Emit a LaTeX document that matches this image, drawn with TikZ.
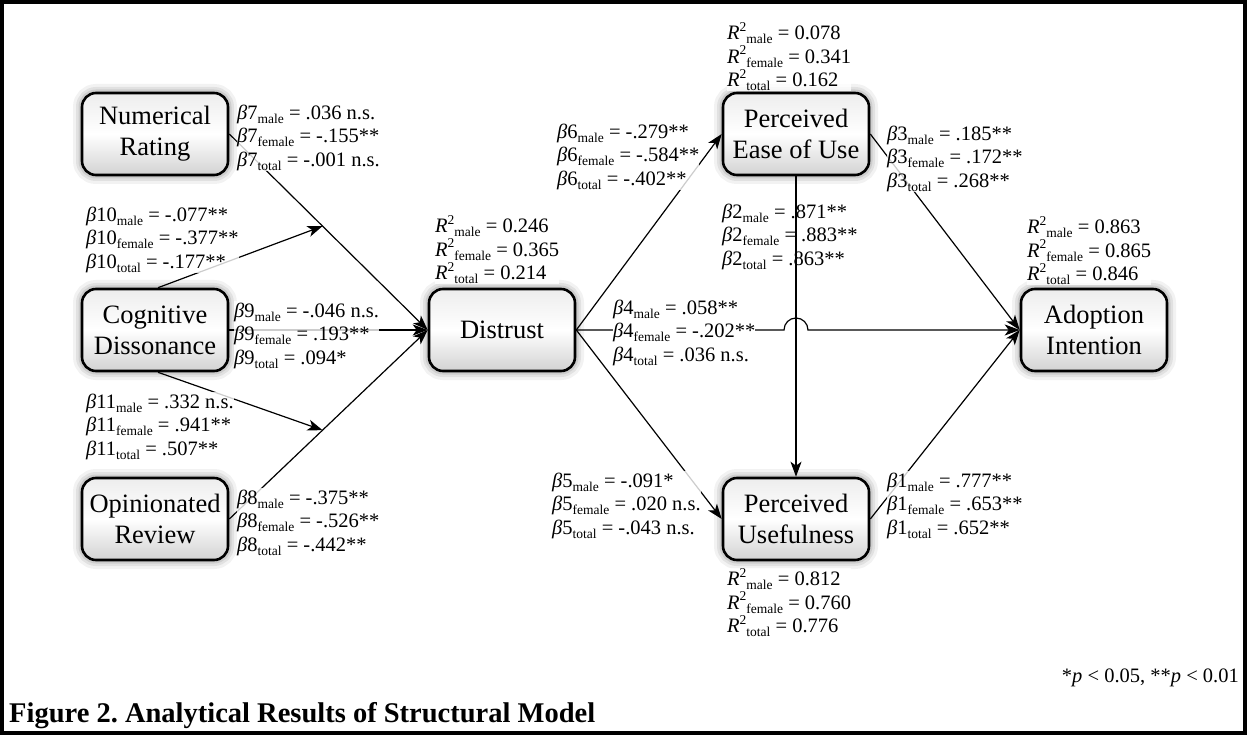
\documentclass[tikz,border=0pt]{standalone}
\usepackage{fontspec}
\setmainfont{Liberation Serif}
\usetikzlibrary{arrows.meta,calc}
\frenchspacing
\newcommand\boxfont{\fontsize{26.5}{31}\selectfont}
\newcommand\lblfont{\fontsize{20.5}{23.5}\selectfont}
\newcommand\capfont{\bfseries\fontsize{28.5}{32}\selectfont}
\newcommand\bt{\textit{β}}
\newcommand\sbs[1]{\raisebox{-0.2em}{\fontsize{13.5}{13.5}\selectfont #1}}
\newcommand\sps[1]{\raisebox{0.42em}{\fontsize{13.5}{13.5}\selectfont #1}}
\newcommand\fst{\rule{0pt}{16pt}}
\newcommand\Rsq{\textit{R}\sps{2}}
\tikzset{
  blk/.style={draw=black, line width=2.6pt, rounded corners=14pt,
    minimum width=146pt, minimum height=82pt, inner sep=0pt, align=center,
    font=\boxfont, top color=gray!14, bottom color=gray!35, middle color=white,
    preaction={draw=black, draw opacity=0.05, line width=18pt},
    preaction={draw=black, draw opacity=0.07, line width=12pt},
    preaction={draw=black, draw opacity=0.09, line width=7pt}},
  lab/.style={font=\lblfont, align=left, inner sep=0pt, anchor=north west,
    fill=white, fill opacity=0.8, text opacity=1},
  con/.style={line width=1.2pt, -{Stealth[length=15pt,width=11pt,inset=4pt]}},
}
\begin{document}
\begin{tikzpicture}[x=1pt,y=-1pt]
\useasboundingbox (0,0) rectangle (1247,735);
\draw[line width=4pt] (2,2) rectangle (1245,733);

% boxes
\node[blk] (nr) at (155,134) {Numerical\\Rating};
\node[blk] (cd) at (155,330) {Cognitive\\Dissonance};
\node[blk] (or) at (155,519) {Opinionated\\Review};
\node[blk] (dis) at (502,330) {Distrust};
\node[blk] (peou) at (796,134) {Perceived\\Ease of Use};
\node[blk] (pu) at (796,519) {Perceived\\Usefulness};
\node[blk] (adopt) at (1094,330) {Adoption\\Intention};

% moderation points
\coordinate (m10) at ($(nr.east)!0.47!(dis.west)$);
\coordinate (m11) at ($(or.east)!0.47!(dis.west)$);
\coordinate (hop) at (peou.south |- dis.east);

% connectors
\draw[con] (nr.east) -- (dis.west);
\draw[con] (cd.east) -- (dis.west);
\draw[con] (or.east) -- (dis.west);
\draw[con] ([xshift=3pt]cd.north) -- (m10);
\draw[con] ([xshift=3pt]cd.south) -- (m11);
\draw[con] (dis.east) -- (peou.west);
\draw[con] (dis.east) -- (pu.west);
\draw[con] (peou.south) -- (pu.north);
\draw[con] (dis.east) -- ([xshift=-12pt]hop)
  .. controls ([xshift=-12pt,yshift=6.63pt]hop) and ([xshift=-6.63pt,yshift=12pt]hop) .. ([yshift=12pt]hop)
  .. controls ([xshift=6.63pt,yshift=12pt]hop) and ([xshift=12pt,yshift=6.63pt]hop) .. ([xshift=12pt]hop)
  -- (adopt.west);
\draw[con] (peou.east) -- (adopt.west);
\draw[con] (pu.east) -- (adopt.west);

% labels
\node[lab] (l7) at (237,103) {\fst\bt7\sbs{male} = .036 n.s.\\ \bt7\sbs{female} = -.155**\\ \bt7\sbs{total} = -.001 n.s.};
\node[lab] (l10) at (86,205) {\fst\bt10\sbs{male} = -.077**\\ \bt10\sbs{female} = -.377**\\ \bt10\sbs{total} = -.177**};
\node[lab] (l9) at (234,301) {\fst\bt9\sbs{male} = -.046 n.s.\\ \bt9\sbs{female} = .193**\\ \bt9\sbs{total} = .094*};
\node[lab] (l11) at (86,392) {\fst\bt11\sbs{male} = .332 n.s.\\ \bt11\sbs{female} = .941**\\ \bt11\sbs{total} = .507**};
\node[lab] (l8) at (237,488) {\fst\bt8\sbs{male} = -.375**\\ \bt8\sbs{female} = -.526**\\ \bt8\sbs{total} = -.442**};
\node[lab] (rdis) at (435,215) {\fst\Rsq\sbs{male} = 0.246\\ \Rsq\sbs{female} = 0.365\\ \Rsq\sbs{total} = 0.214};
\node[lab] (l6) at (557,122) {\fst\bt6\sbs{male} = -.279**\\ \bt6\sbs{female} = -.584**\\ \bt6\sbs{total} = -.402**};
\node[lab] (rpeou) at (727,22) {\fst\Rsq\sbs{male} = 0.078\\ \Rsq\sbs{female} = 0.341\\ \Rsq\sbs{total} = 0.162};
\node[lab, fill opacity=0] (l2) at (722,202) {\fst\bt2\sbs{male} = .871**\\ \bt2\sbs{female} = .883**\\ \bt2\sbs{total} = .863**};
\node[lab] (l3) at (887,124) {\fst\bt3\sbs{male} = .185**\\ \bt3\sbs{female} = .172**\\ \bt3\sbs{total} = .268**};
\node[lab] (radopt) at (1027,216) {\fst\Rsq\sbs{male} = 0.863\\ \Rsq\sbs{female} = 0.865\\ \Rsq\sbs{total} = 0.846};
\node[lab, fill opacity=1] (l4) at (613,298) {\fst\bt4\sbs{male} = .058**\\ \bt4\sbs{female} = -.202**\\ \bt4\sbs{total} = .036 n.s.};
\node[lab] (l5) at (552,471) {\fst\bt5\sbs{male} = -.091*\\ \bt5\sbs{female} = .020 n.s.\\ \bt5\sbs{total} = -.043 n.s.};
\node[lab] (rpu) at (727,568) {\fst\Rsq\sbs{male} = 0.812\\ \Rsq\sbs{female} = 0.760\\ \Rsq\sbs{total} = 0.776};
\node[lab] (l1) at (887,471) {\fst\bt1\sbs{male} = .777**\\ \bt1\sbs{female} = .653**\\ \bt1\sbs{total} = .652**};

\node[font=\lblfont, inner sep=0pt, anchor=base east] (pnote) at (1239,682) {*\textit{p} < 0.05, **\textit{p} < 0.01};
\node[font=\capfont, inner sep=0pt, anchor=base west] (cap) at (9,722) {Figure 2. Analytical Results of Structural Model};
\end{tikzpicture}
\end{document}
